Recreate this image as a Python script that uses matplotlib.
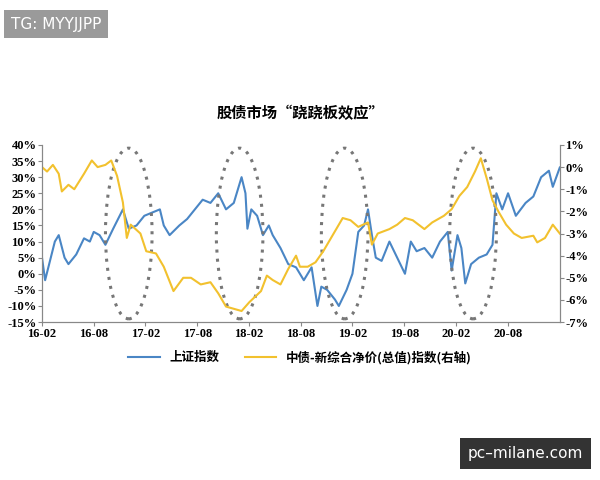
import matplotlib
matplotlib.use('Agg')
import matplotlib.pyplot as plt
from matplotlib.patches import Ellipse

# zoom-pixel positions, converted to months since 2016-02
sh_x = [127, 135, 160, 170, 185, 195, 215, 235, 250, 260, 275, 290, 310, 335, 350, 370, 390, 410, 430,
        440, 455, 480, 500, 520, 540, 560, 580, 600, 620, 640, 650, 655, 665, 680, 695, 710, 720, 740,
        760, 780, 800, 820, 835, 845, 860, 880, 890, 910, 925, 940, 955, 965, 975, 985, 1000, 1020, 1040,
        1060, 1075, 1090, 1110, 1130, 1150, 1170, 1180, 1195, 1205, 1215, 1230, 1250, 1270, 1285, 1295,
        1310, 1325, 1345, 1370, 1390, 1410, 1430, 1440, 1458]
sh_y = [5, -2, 10, 12, 5, 3, 6, 11, 10, 13, 12, 9, 14, 20, 14, 15, 18, 19, 20,
        15, 12, 15, 17, 20, 23, 22, 25, 20, 22, 30, 25, 14, 20, 18, 12, 15, 12, 8,
        3, 2, -2, 2, -10, -4, -5, -8, -10, -5, 0, 13, 15, 20, 12, 5, 4, 10, 5,
        0, 10, 7, 8, 5, 10, 13, 1, 12, 8, -3, 3, 5, 6, 9, 25,
        20, 25, 18, 22, 24, 30, 32, 27, 33]

bond_x = [127, 140, 155, 170, 178, 195, 210, 235, 255, 270, 290, 305, 320, 335, 345, 355, 380, 395, 420,
          440, 465, 490, 510, 535, 560, 580, 600, 620, 640, 660, 690, 705, 720, 740, 760, 780, 790, 810,
          830, 850, 870, 900, 920, 940, 965, 975, 990, 1020, 1040, 1060, 1080, 1110, 1130, 1160, 1180,
          1200, 1220, 1240, 1255, 1270, 1285, 1300, 1320, 1340, 1360, 1390, 1400, 1420, 1440, 1458]
bond_y = [0.0, -0.2, 0.1, -0.3, -1.1, -0.8, -1.0, -0.3, 0.3, 0.0, 0.1, 0.3, -0.4, -1.6, -3.2, -2.6, -3.0, -3.8, -3.9,
          -4.5, -5.6, -5.0, -5.0, -5.3, -5.2, -5.7, -6.3, -6.4, -6.5, -6.1, -5.6, -4.9, -5.1, -5.3, -4.6, -4.0, -4.5, -4.5,
          -4.3, -3.8, -3.2, -2.3, -2.4, -2.7, -2.5, -3.5, -3.0, -2.8, -2.6, -2.3, -2.4, -2.8, -2.5, -2.2, -1.9,
          -1.3, -0.9, -0.2, 0.4, -0.5, -1.5, -2.0, -2.6, -3.0, -3.2, -3.1, -3.4, -3.2, -2.6, -3.0]

ellipse_x = [350, 635, 905, 1235]
tick_labels = ['16-02', '16-08', '17-02', '17-08', '18-02', '18-08', '19-02', '19-08', '20-02', '20-08']

def to_month(z):
    return (z - 127) / 22.17

cjk = ['Noto Sans CJK SC', 'DejaVu Sans']
serif = 'Liberation Serif'

fig = plt.figure(figsize=(6, 4.8), dpi=100)
ax = fig.add_axes([0.07, 0.329, 0.863, 0.369])
ax2 = ax.twinx()

l1, = ax.plot([to_month(v) for v in sh_x], sh_y, color='#4A86C5', lw=1.5)
l2, = ax2.plot([to_month(v) for v in bond_x], bond_y, color='#F2C12E', lw=1.5)

ax.set_xlim(0, to_month(1458))
ax.set_ylim(-15, 40)
ax2.set_ylim(-7, 1)
ax.set_xticks(range(0, 60, 6))
ax.set_xticklabels(tick_labels)
ax.set_yticks(range(-15, 41, 5))
ax.set_yticklabels([f'{v}%' for v in range(-15, 41, 5)])
ax2.set_yticks(range(-7, 2))
ax2.set_yticklabels([f'{v}%' for v in range(-7, 2)])

for a in (ax, ax2):
    for lab in a.get_xticklabels() + a.get_yticklabels():
        lab.set_fontfamily(serif)
        lab.set_fontweight('bold')
        lab.set_fontsize(9)
    a.tick_params(length=3, color='#888888', pad=1)
    for s in ('top',):
        a.spines[s].set_visible(False)
    for s in ('left', 'right', 'bottom'):
        a.spines[s].set_color('#888888')

for z in ellipse_x:
    e = Ellipse((to_month(z), 12.5), 5.4, 53, fill=False, ls=(0, (1, 2)),
                lw=2.2, edgecolor='#777777', clip_on=False, zorder=5)
    ax.add_patch(e)

fig.text(0.5, 0.755, '股债市场“跷跷板效应”', ha='center', fontsize=11,
         fontweight='bold', family=cjk)

fig.legend([l1, l2], ['上证指数', '中债-新综合净价(总值)指数(右轴)'], loc='center',
           bbox_to_anchor=(0.5, 0.255), ncol=2, frameon=False, handlelength=2.5,
           prop={'family': cjk, 'weight': 'bold', 'size': 9})

fig.text(0.018, 0.95, 'TG: MYYJJPP', color='white', fontsize=11, va='center',
         bbox=dict(boxstyle='square,pad=0.45', fc='#9a9a9a', ec='none'))
fig.text(0.78, 0.055, 'pc–milane.com', color='white', fontsize=11, va='center',
         bbox=dict(boxstyle='square,pad=0.5', fc='#333333', ec='none'))

fig.savefig('out.png', dpi=100, facecolor='white')
